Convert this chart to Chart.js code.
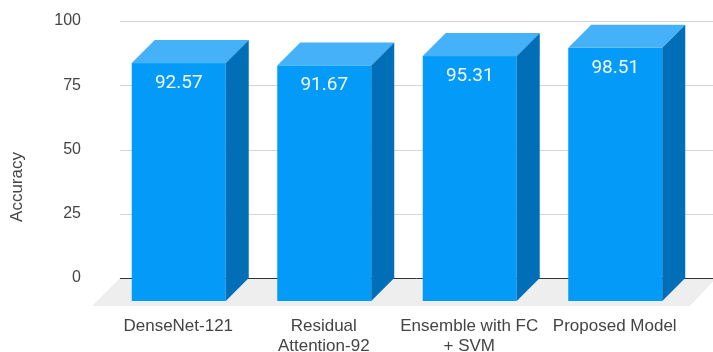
<!DOCTYPE html>
<html>
<head>
<meta charset="utf-8">
<script src="https://cdn.jsdelivr.net/npm/chart.js@4"></script>
<style>
  body { margin: 0; background: #fff; }
  #wrap { width: 713px; height: 352px; }
</style>
</head>
<body>
<div id="wrap"><canvas id="myChart" width="713" height="352"></canvas></div>
<script>
const models = ['DenseNet-121', ['Residual', 'Attention-92'], ['Ensemble with FC', '+ SVM'], 'Proposed Model'];
const accuracy = [92.57, 91.67, 95.31, 98.51];
const yTicks = [0, 25, 50, 75, 100];

const DEPTH = 23;
const frontColor = '#039bf7';
const topColor = '#44b1f8';
const sideColor = '#006fb8';

// floor, grid lines and the 3D boxes
const boxes = {
    id: 'boxes',
    beforeDatasetsDraw(chart) {
        const ctx = chart.ctx;
        const y = chart.scales.y;
        const base = y.getPixelForValue(0);
        ctx.save();
        ctx.fillStyle = '#eeeeee';
        ctx.beginPath();
        ctx.moveTo(120, base);
        ctx.lineTo(716, base);
        ctx.lineTo(690, base + 28);
        ctx.lineTo(92, base + 28);
        ctx.closePath();
        ctx.fill();

        yTicks.forEach(v => {
            const py = Math.round(y.getPixelForValue(v)) + 0.5;
            ctx.strokeStyle = v === 0 ? '#333333' : '#d4d4d4';
            ctx.lineWidth = 1;
            ctx.beginPath();
            ctx.moveTo(120, py);
            ctx.lineTo(713, py);
            ctx.stroke();
        });
        ctx.restore();
    },
    afterDatasetsDraw(chart) {
        const ctx = chart.ctx;
        const meta = chart.getDatasetMeta(0);
        ctx.save();
        meta.data.forEach((bar, i) => {
            const w = bar.width;
            const left = bar.x - w / 2 - DEPTH;
            const right = bar.x + w / 2 - DEPTH;
            const top = bar.y + DEPTH;
            const bottom = bar.base + DEPTH;

            ctx.fillStyle = frontColor;
            ctx.fillRect(left, top, right - left, bottom - top);

            ctx.fillStyle = topColor;
            ctx.beginPath();
            ctx.moveTo(left, top);
            ctx.lineTo(left + DEPTH, bar.y);
            ctx.lineTo(right + DEPTH, bar.y);
            ctx.lineTo(right, top);
            ctx.closePath();
            ctx.fill();

            ctx.fillStyle = sideColor;
            ctx.beginPath();
            ctx.moveTo(right, top);
            ctx.lineTo(right + DEPTH, bar.y);
            ctx.lineTo(right + DEPTH, bar.base);
            ctx.lineTo(right, bottom);
            ctx.closePath();
            ctx.fill();

            ctx.fillStyle = '#f4f8ff';
            ctx.font = '19px Roboto, "Liberation Sans", sans-serif';
            ctx.textAlign = 'center';
            ctx.textBaseline = 'middle';
            ctx.fillText(accuracy[i].toFixed(2), (left + right) / 2, top + 20);
        });

        // y axis title
        ctx.translate(17, 187);
        ctx.rotate(-Math.PI / 2);
        ctx.fillStyle = '#444444';
        ctx.font = '17px "Liberation Sans", Arial, sans-serif';
        ctx.textAlign = 'center';
        ctx.textBaseline = 'middle';
        ctx.fillText('Accuracy', 0, 0);
        ctx.restore();
    }
};

Chart.defaults.font.family = '"Liberation Sans", Arial, sans-serif';
Chart.defaults.font.size = 16;
Chart.defaults.color = '#444444';

new Chart(document.getElementById('myChart'), {
    type: 'bar',
    data: {
        labels: models,
        datasets: [{
            label: 'Accuracy',
            data: accuracy,
            backgroundColor: 'rgba(0,0,0,0)',
            categoryPercentage: 1,
            barPercentage: 0.646
        }]
    },
    options: {
        responsive: false,
        animation: false,
        layout: { padding: { top: 21, right: 2, left: 0, bottom: 0 } },
        plugins: {
            legend: { display: false },
            tooltip: { enabled: false }
        },
        scales: {
            x: {
                grid: { display: false, drawTicks: false },
                border: { display: false },
                ticks: {
                    labelOffset: -23.5,
                    padding: 38,
                    maxRotation: 0,
                    autoSkip: false,
                    font: { size: 17, lineHeight: 1.2 }
                },
                afterFit(scale) {
                    scale.height = 74;
                    scale.paddingLeft = 0;
                    scale.paddingRight = 0;
                }
            },
            y: {
                min: 0,
                max: 100,
                grid: { display: false, drawTicks: false },
                border: { display: false },
                ticks: { stepSize: 25, padding: 48, font: { size: 16 } },
                afterFit(scale) {
                    scale.width = 129;
                    scale.paddingTop = 0;
                    scale.paddingBottom = 0;
                }
            }
        }
    },
    plugins: [boxes]
});
</script>
</body>
</html>
